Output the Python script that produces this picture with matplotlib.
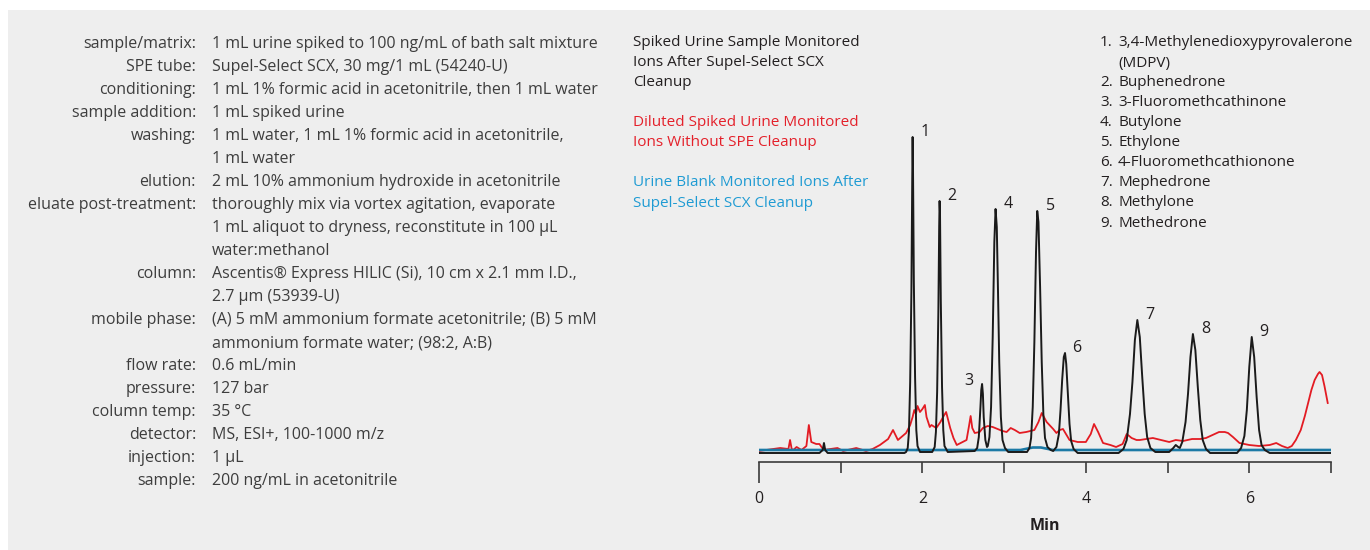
import matplotlib
matplotlib.use("Agg")
import matplotlib.pyplot as plt
from matplotlib.patches import Rectangle

# ---------------- data ----------------
conditions_labels = ["sample/matrix:", "SPE tube:", "conditioning:", "sample addition:",
                     "washing:", "elution:", "eluate post-treatment:", "column:",
                     "mobile phase:", "flow rate:", "pressure:", "column temp:",
                     "detector:", "injection:", "sample:"]
conditions_values = [
    ["1 mL urine spiked to 100 ng/mL of bath salt mixture"],
    ["Supel-Select SCX, 30 mg/1 mL (54240-U)"],
    ["1 mL 1% formic acid in acetonitrile, then 1 mL water"],
    ["1 mL spiked urine"],
    ["1 mL water, 1 mL 1% formic acid in acetonitrile,", "1 mL water"],
    ["2 mL 10% ammonium hydroxide in acetonitrile"],
    ["thoroughly mix via vortex agitation, evaporate", "1 mL aliquot to dryness, reconstitute in 100 µL", "water:methanol"],
    ["Ascentis® Express HILIC (Si), 10 cm x 2.1 mm I.D.,", "2.7 µm (53939-U)"],
    ["(A) 5 mM ammonium formate acetonitrile; (B) 5 mM", "ammonium formate water; (98:2, A:B)"],
    ["0.6 mL/min"],
    ["127 bar"],
    ["35 °C"],
    ["MS, ESI+, 100-1000 m/z"],
    ["1 µL"],
    ["200 ng/mL in acetonitrile"],
]

legend_texts = ["Spiked Urine Sample Monitored\nIons After Supel-Select SCX\nCleanup",
                "Diluted Spiked Urine Monitored\nIons Without SPE Cleanup",
                "Urine Blank Monitored Ions After\nSupel-Select SCX Cleanup"]

compounds = ["3,4-Methylenedioxypyrovalerone\n(MDPV)", "Buphenedrone", "3-Fluoromethcathinone",
             "Butylone", "Ethylone", "4-Fluoromethcathionone", "Mephedrone", "Methylone",
             "Methedrone"]

peak_times = [1.88, 2.21, 2.73, 2.90, 3.41, 3.74, 4.63, 5.31, 6.03]
peak_heights = [315, 251, 68, 243, 241, 99, 132, 118, 115]

# spiked urine after SCX cleanup (black)
black_t = [0.00, 0.74, 0.78, 0.795, 0.81, 0.84, 1.30, 1.78,
           1.80, 1.82, 1.835, 1.85, 1.865, 1.875, 1.88, 1.885, 1.895, 1.91, 1.925, 1.94, 1.97,
           2.12, 2.15, 2.165, 2.18, 2.195, 2.205, 2.21, 2.215, 2.225, 2.24, 2.255, 2.27, 2.31,
           2.64, 2.67, 2.69, 2.71, 2.72, 2.73, 2.74, 2.75, 2.77, 2.79,
           2.80, 2.82, 2.84, 2.86, 2.88, 2.895, 2.91, 2.925, 2.94, 2.96, 2.98, 3.01, 3.05,
           3.28, 3.31, 3.33, 3.35, 3.37, 3.39, 3.405, 3.42, 3.44, 3.46, 3.48, 3.50, 3.53, 3.57,
           3.60, 3.64, 3.67, 3.69, 3.71, 3.73, 3.745, 3.76, 3.78, 3.80, 3.82, 3.85, 3.90,
           4.40, 4.46, 4.50, 4.54, 4.57, 4.60, 4.63, 4.66, 4.69, 4.72, 4.75, 4.79, 4.85,
           5.02, 5.07, 5.10, 5.13, 5.15,
           5.18, 5.22, 5.25, 5.28, 5.31, 5.34, 5.37, 5.40, 5.43, 5.47, 5.52,
           5.85, 5.90, 5.94, 5.97, 6.00, 6.03, 6.06, 6.09, 6.12, 6.15, 6.19, 6.25, 7.00]
black_h = [-1, -1, 2, 9, 2, -1, -1, -1,
           0, 4, 20, 70, 160, 270, 315, 280, 170, 75, 22, 6, 0,
           0, 5, 20, 60, 140, 225, 251, 240, 150, 65, 22, 6, 0,
           1, 4, 15, 45, 62, 68, 58, 35, 12, 5,
           6, 15, 45, 115, 210, 243, 225, 160, 90, 35, 12, 4, 0,
           0, 4, 14, 45, 110, 200, 241, 230, 165, 90, 38, 14, 5, 2,
           1, 5, 18, 42, 72, 95, 99, 88, 58, 28, 11, 3, -1,
           -1, 3, 12, 38, 70, 112, 132, 115, 75, 38, 15, 4, 0,
           0, 4, 7, 5, 4,
           10, 30, 58, 95, 118, 102, 65, 32, 12, 3, -1,
           -1, 4, 16, 42, 85, 115, 95, 55, 22, 7, 2, -1, -1]

# diluted spiked urine without SPE (red)
red_t = [0.00, 0.26, 0.36, 0.38, 0.40, 0.42, 0.46, 0.52, 0.58, 0.61, 0.64, 0.70, 0.74, 0.79,
         0.96, 1.03, 1.19, 1.31, 1.39, 1.48, 1.58, 1.64, 1.70, 1.80, 1.85, 1.88, 1.90, 1.92,
         1.94, 1.97, 2.00, 2.03, 2.05, 2.09, 2.11, 2.17, 2.22, 2.26, 2.29, 2.34, 2.38, 2.42,
         2.54, 2.57, 2.59, 2.61, 2.64, 2.70, 2.74, 2.80, 2.86, 2.92,
         2.98, 3.03, 3.08, 3.13, 3.19, 3.27, 3.37, 3.42, 3.46, 3.52, 3.60, 3.64, 3.68, 3.72,
         3.80, 3.90, 4.00, 4.06, 4.10, 4.15, 4.21, 4.30, 4.37,
         4.45, 4.50, 4.56, 4.62, 4.66, 4.74, 4.82, 4.92, 5.02, 5.10, 5.19, 5.30, 5.40, 5.47,
         5.55, 5.63, 5.70, 5.74, 5.80, 5.88, 6.00, 6.12, 6.25, 6.33, 6.40, 6.47,
         6.52, 6.57, 6.63, 6.68, 6.72, 6.76, 6.80, 6.84, 6.86, 6.89, 6.92, 6.96]
red_h = [1, 4, 3, 12, 3, 2, 5, 2, 6, 27, 10, 8, 8, 2,
         4, 1, 4, 1, 3, 7, 13, 22, 12, 19, 27, 35, 42, 38,
         46, 40, 43, 47, 35, 25, 27, 24, 30, 36, 40, 24, 14, 7,
         12, 26, 36, 24, 19, 20, 24, 26, 25, 23,
         21, 20, 24, 22, 19, 20, 22, 30, 39, 30, 23, 19, 22, 23,
         12, 10, 10, 18, 28, 20, 9, 7, 5,
         8, 18, 14, 12, 12, 13, 14, 12, 10, 12, 11, 13, 13, 14,
         17, 20, 20, 19, 15, 9, 7, 6, 7, 9, 6, 4,
         6, 12, 22, 36, 49, 62, 72, 78, 80, 77, 66, 49]

# urine blank after SCX cleanup (blue)
blue_t = [0.00, 3.20, 3.35, 3.45, 3.60, 7.00]
blue_h = [2, 2, 4.5, 4.5, 2, 2]

# ---------------- figure ----------------
W, H = 1370, 550
fig = plt.figure(figsize=(W / 100, H / 100), dpi=100, facecolor="white")
fig.patches.append(Rectangle((8 / W, 0), 1 - 8 / W, 1 - 10 / H, transform=fig.transFigure,
                             facecolor="#eeeeee", edgecolor="none", zorder=-5))

FONT = ["Open Sans", "DejaVu Sans"]
FS = 11.55
FS2 = 10.95


def fx(x):
    return x / W


def fy(y):
    return 1 - y / H


# left conditions block
GRAY = "#3d3d3d"
k = 0
for lab, vals in zip(conditions_labels, conditions_values):
    fig.text(fx(196), fy(44 + 23.0 * k), lab, ha="right", va="center", fontsize=FS,
             color=GRAY, family=FONT)
    for v in vals:
        fig.text(fx(212), fy(44 + 23.0 * k), v, ha="left", va="center", fontsize=FS,
                 color=GRAY, family=FONT)
        k += 1

# legend texts
leg_colors = ["#231f20", "#e4202a", "#1f9bd3"]
leg_y = [42, 122, 183]
for txt, c, y in zip(legend_texts, leg_colors, leg_y):
    for j, line in enumerate(txt.split("\n")):
        fig.text(fx(633), fy(y + 20.5 * j), line, ha="left", va="center", fontsize=FS2,
                 color=c, family=FONT)

# compound list
row = 0
for i, name in enumerate(compounds):
    fig.text(fx(1100), fy(43 + 20 * row), f"{i + 1}.", ha="left", va="center",
             fontsize=FS2, color="#231f20", family=FONT)
    for line in name.split("\n"):
        fig.text(fx(1118), fy(43 + 20 * row), line, ha="left", va="center",
                 fontsize=FS2, color="#231f20", family=FONT)
        row += 1

# chromatogram axes
ax_left, ax_right = 759, 1331
ax_top, ax_bot = 120, 462
ax = fig.add_axes([fx(ax_left), fy(ax_bot), (ax_right - ax_left) / W, (ax_bot - ax_top) / H])
ax.set_facecolor("none")
ax.plot(red_t, red_h, color="#e31b23", lw=1.3, zorder=2)
ax.plot(blue_t, blue_h, color="#1c7aa6", lw=1.9, zorder=3)
ax.plot(black_t, black_h, color="#1a1a1a", lw=1.4, zorder=4)

for i, (t, h) in enumerate(zip(peak_times, peak_heights)):
    off = (-13, 3) if i == 2 else (12.5, 5)
    ax.annotate(str(i + 1), (t, h), xytext=off, textcoords="offset pixels",
                ha="center", va="center", fontsize=FS, color="#231f20", family=FONT)

ax.set_xlim(0, 7.0)
ax.set_ylim(-10, ax_bot - 10 - ax_top)
for s in ["top", "right", "left"]:
    ax.spines[s].set_visible(False)
ax.spines["bottom"].set_color("#3a3a3a")
ax.spines["bottom"].set_linewidth(1.2)
ax.set_yticks([])
ax.set_xticks([0, 2, 4, 6])
ax.set_xticklabels(["0", "2", "4", "6"], family=FONT, fontsize=FS, color="#231f20")
ax.set_xticks([1, 3, 5, 7], minor=True)
ax.tick_params(axis="x", which="both", direction="out", length=8, width=1.2,
               color="#3a3a3a", pad=13)
ax.xaxis.get_major_ticks()[0].tick1line.set_markersize(15)
ax.set_xlabel("Min", family=FONT, fontsize=FS, fontweight="bold", color="#231f20",
              labelpad=8)

fig.savefig("out.png", dpi=100, facecolor="white")
